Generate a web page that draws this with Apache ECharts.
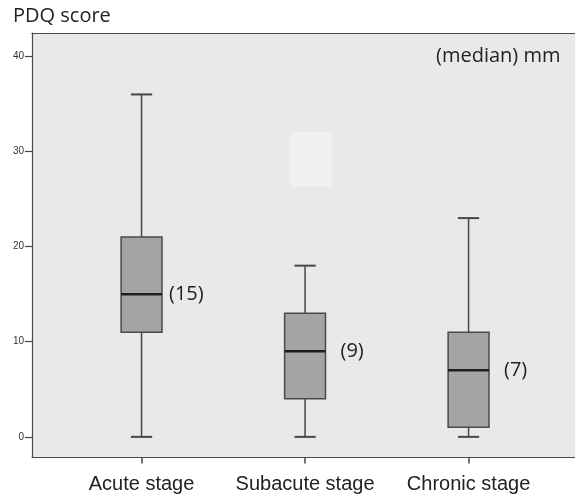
<!DOCTYPE html>
<html>
<head>
<meta charset="utf-8">
<script src="https://cdn.jsdelivr.net/npm/echarts@6/dist/echarts.min.js"></script>
<style>
  html, body { margin: 0; padding: 0; background: #ffffff; }
  #chart { width: 575px; height: 500px; }
</style>
</head>
<body>
<div id="chart"></div>
<script>
// PDQ score by stage: five-number summaries per group
const categories = ['Acute stage', 'Subacute stage', 'Chronic stage'];
const whiskerLow = [0, 0, 0];
const quartile1 = [11, 4, 1];
const medians = [15, 9, 7];
const quartile3 = [21, 13, 11];
const whiskerHigh = [36, 18, 23];
const yTicks = [0, 10, 20, 30, 40];

const boxData = categories.map((c, i) => [
  i + 1, whiskerLow[i], quartile1[i], medians[i], quartile3[i], whiskerHigh[i]
]);

const chart = echarts.init(document.getElementById('chart'), null, { renderer: 'canvas' });

const lineCol = '#474747';
const frameLine = { show: true, onZero: false, lineStyle: { color: '#4a4a4a', width: 1.2 } };
const xMin = 0.33, xMax = 3.651;

function renderBox(params, api) {
  const x = api.value(0);
  const lo = api.coord([x, api.value(1)]);
  const q1 = api.coord([x, api.value(2)]);
  const md = api.coord([x, api.value(3)]);
  const q3 = api.coord([x, api.value(4)]);
  const hi = api.coord([x, api.value(5)]);
  const boxW = api.size([0.25, 0])[0];
  const capW = api.size([0.13, 0])[0];
  const cx = lo[0];
  const ls = { stroke: lineCol, lineWidth: 1.5 };
  const labelOffset = params.dataIndex === 0 ? 7 : 15;
  return {
    type: 'group',
    children: [
      { type: 'line', shape: { x1: cx, y1: hi[1], x2: cx, y2: q3[1] }, style: ls },
      { type: 'line', shape: { x1: cx, y1: q1[1], x2: cx, y2: lo[1] }, style: ls },
      { type: 'line', shape: { x1: cx - capW / 2, y1: hi[1], x2: cx + capW / 2, y2: hi[1] }, style: { stroke: lineCol, lineWidth: 2 } },
      { type: 'line', shape: { x1: cx - capW / 2, y1: lo[1], x2: cx + capW / 2, y2: lo[1] }, style: { stroke: lineCol, lineWidth: 2 } },
      { type: 'rect', shape: { x: cx - boxW / 2, y: q3[1], width: boxW, height: q1[1] - q3[1] },
        style: { fill: '#a4a4a6', stroke: '#4a4a4a', lineWidth: 1.5 } },
      { type: 'line', shape: { x1: cx - boxW / 2, y1: md[1], x2: cx + boxW / 2, y2: md[1] },
        style: { stroke: '#1e1e1e', lineWidth: 2.6 } },
      { type: 'text', x: cx + boxW / 2 + labelOffset, y: md[1],
        style: { text: '(' + api.value(3) + ')', fill: '#222222', fontSize: 20,
          fontFamily: 'Open Sans', verticalAlign: 'middle', align: 'left' } }
    ]
  };
}

chart.setOption({
  animation: false,
  backgroundColor: '#ffffff',
  grid: {
    left: 32, top: 33, right: 0, bottom: 42.5,
    show: true, backgroundColor: '#e9e9eb', borderWidth: 0
  },
  graphic: [
    { type: 'text', left: 13, top: 6,
      style: { text: 'PDQ score', fontSize: 20, fill: '#222222', fontFamily: 'Open Sans' } },
    { type: 'text', left: 436, top: 46,
      style: { text: '(median) mm', fontSize: 20, fill: '#222222', fontFamily: 'Open Sans' } },
    { type: 'rect', left: 290, top: 132, z: 0,
      shape: { width: 42, height: 55, r: 4 }, style: { fill: '#f0f0f0' } }
  ],
  xAxis: [{
    type: 'value', min: xMin, max: xMax, position: 'bottom',
    axisLine: frameLine,
    splitLine: { show: false },
    axisTick: { show: true, customValues: [1, 2, 3], length: 6, lineStyle: { color: lineCol, width: 1.5 } },
    axisLabel: {
      customValues: [1, 2, 3], margin: 17,
      formatter: v => categories[Math.round(v) - 1] || '',
      fontSize: 20, color: '#222222', fontFamily: 'Liberation Sans'
    }
  }, {
    type: 'value', min: xMin, max: xMax, position: 'top',
    axisLine: frameLine,
    splitLine: { show: false }, axisTick: { show: false }, axisLabel: { show: false }
  }],
  yAxis: {
    type: 'value', min: -2.17, max: 42.46,
    axisLine: frameLine,
    splitLine: { show: false },
    axisTick: { show: true, customValues: yTicks, length: 7, lineStyle: { color: lineCol, width: 1.2 } },
    axisLabel: { customValues: yTicks, margin: 8, fontSize: 10, color: '#333333', fontFamily: 'Liberation Sans' }
  },
  series: [{
    type: 'custom',
    renderItem: renderBox,
    encode: { x: 0, y: [1, 2, 3, 4, 5] },
    data: boxData,
    z: 5
  }]
});
</script>
</body>
</html>
